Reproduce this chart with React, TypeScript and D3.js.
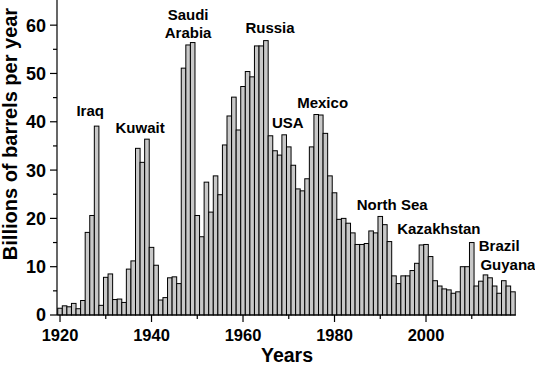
import React, { useEffect, useRef } from "react";
import * as d3 from "d3";

// oil discoveries per year, 1920-2019
const years = d3.range(1920, 2020);
const discoveries = [
  1.4, 1.9, 1.7, 2.4, 1.3, 3.0, 17.1, 20.6, 39.1, 2.0,
  7.8, 8.5, 3.2, 3.3, 2.6, 9.5, 11.2, 34.5, 31.6, 36.4,
  14.0, 10.3, 3.1, 3.6, 7.7, 7.9, 6.5, 51.1, 55.9, 56.4,
  20.6, 16.2, 27.5, 21.3, 28.8, 24.9, 35.2, 41.2, 45.1, 38.3,
  47.3, 50.4, 49.3, 55.7, 55.7, 56.8, 37.1, 34.0, 33.1, 37.3,
  34.8, 31.0, 26.1, 25.7, 28.2, 34.8, 41.5, 41.4, 37.6, 28.8,
  25.3, 19.8, 20.0, 19.0, 17.0, 14.6, 14.6, 14.8, 17.4, 17.0,
  20.4, 18.7, 15.2, 8.1, 6.5, 8.1, 8.1, 9.2, 10.7, 14.5,
  14.6, 12.1, 7.1, 6.0, 5.4, 5.2, 4.5, 4.8, 10.0, 10.0,
  15.0, 6.0, 7.0, 8.3, 7.7, 6.0, 4.5, 7.1, 6.0, 4.8,
];

const yTicks = [0, 10, 20, 30, 40, 50, 60];
const yMinorTicks = [5, 15, 25, 35, 45, 55];
const xTicks = [1920, 1940, 1960, 1980, 2000];
const xMinorTicks = [1930, 1950, 1970, 1990, 2010];

// annotation text, year and value of its baseline
const labelText = ["Iraq", "Kuwait", "Saudi", "Arabia", "Russia", "USA", "Mexico", "North Sea", "Kazakhstan", "Brazil", "Guyana"];
const labelYear = [1926.6, 1937.5, 1948.0, 1948.0, 1965.9, 1969.8, 1977.4, 1992.6, 2002.8, 2016.0, 2017.9];
const labelValue = [41.1, 37.7, 61.1, 57.4, 58.4, 38.7, 42.8, 21.7, 16.8, 13.3, 9.4];

const font = "'Liberation Sans', Arial, sans-serif";

const App = () => {
  const svgRef = useRef(null);

  useEffect(() => {
    const width = 535;
    const height = 366;
    const svg = d3.select(svgRef.current);
    svg.selectAll("*").remove();
    svg.attr("width", width).attr("height", height);

    const x = d3.scaleLinear().domain([1919.34, 2019.67]).range([57, 516]);
    const y = d3.scaleLinear().domain([0, 65]).range([315, 1]);
    const barW = x(1921) - x(1920);

    svg
      .append("g")
      .selectAll("rect")
      .data(years)
      .join("rect")
      .attr("x", (d) => x(d) - barW / 2)
      .attr("y", (d, i) => y(discoveries[i]))
      .attr("width", barW)
      .attr("height", (d, i) => y(0) - y(discoveries[i]))
      .attr("fill", "#c8c8c8")
      .attr("stroke", "#000")
      .attr("stroke-width", 1);

    // axis lines
    svg.append("line").attr("x1", 57).attr("x2", 57).attr("y1", 0).attr("y2", 315).attr("stroke", "#000").attr("stroke-width", 1.2);
    svg.append("line").attr("x1", 57).attr("x2", 516).attr("y1", 315).attr("y2", 315).attr("stroke", "#000").attr("stroke-width", 1.2);

    // y ticks
    svg.append("g").selectAll("line").data(yTicks).join("line")
      .attr("x1", 50).attr("x2", 57).attr("y1", (d) => y(d)).attr("y2", (d) => y(d))
      .attr("stroke", "#000").attr("stroke-width", 1.2);
    svg.append("g").selectAll("line").data(yMinorTicks).join("line")
      .attr("x1", 53).attr("x2", 57).attr("y1", (d) => y(d)).attr("y2", (d) => y(d))
      .attr("stroke", "#000").attr("stroke-width", 1.2);
    svg.append("g").selectAll("text").data(yTicks).join("text")
      .attr("x", 46).attr("y", (d) => y(d)).attr("dy", "0.36em")
      .attr("text-anchor", "end")
      .style("font-family", font).style("font-weight", "bold").style("font-size", "18px")
      .text((d) => d);

    // x ticks
    svg.append("g").selectAll("line").data(xTicks).join("line")
      .attr("x1", (d) => x(d)).attr("x2", (d) => x(d)).attr("y1", 315).attr("y2", 322)
      .attr("stroke", "#000").attr("stroke-width", 1.2);
    svg.append("g").selectAll("line").data(xMinorTicks).join("line")
      .attr("x1", (d) => x(d)).attr("x2", (d) => x(d)).attr("y1", 315).attr("y2", 319)
      .attr("stroke", "#000").attr("stroke-width", 1.2);
    svg.append("g").selectAll("text").data(xTicks).join("text")
      .attr("x", (d) => x(d)).attr("y", 341)
      .attr("text-anchor", "middle")
      .style("font-family", font).style("font-weight", "bold").style("font-size", "16.5px")
      .text((d) => d);

    // axis titles
    svg.append("text")
      .attr("x", 287).attr("y", 362)
      .attr("text-anchor", "middle")
      .style("font-family", font).style("font-weight", "bold").style("font-size", "19.5px")
      .text("Years");
    svg.append("text")
      .attr("transform", "translate(17,134) rotate(-90)")
      .attr("text-anchor", "middle")
      .style("font-family", font).style("font-weight", "bold").style("font-size", "20px")
      .text("Billions of barrels per year");

    // country annotations
    svg.append("g").selectAll("text").data(labelText).join("text")
      .attr("x", (d, i) => x(labelYear[i]))
      .attr("y", (d, i) => y(labelValue[i]))
      .attr("text-anchor", "middle")
      .style("font-family", font).style("font-weight", "bold").style("font-size", "15px")
      .text((d) => d);
  }, []);

  return (
    <div style={{ position: "absolute", left: 0, top: 0 }}>
      <svg ref={svgRef} style={{ display: "block" }}></svg>
    </div>
  );
};

export default App;
